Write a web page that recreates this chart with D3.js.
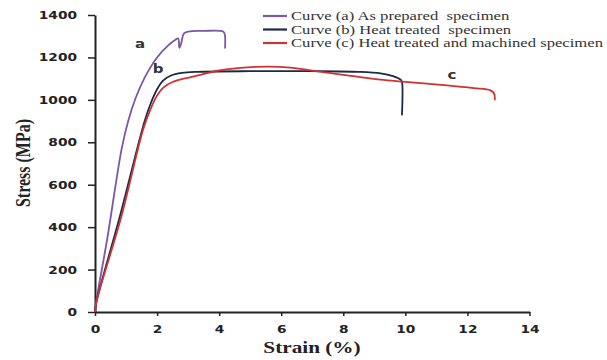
<!DOCTYPE html>
<html>
<head>
<meta charset="utf-8">
<script src="https://cdn.jsdelivr.net/npm/d3@7"></script>
<style>
  body { margin: 0; background: #fff; }
  .axis path, .axis line { stroke: #222; }
  .axis text { font-family: "DejaVu Sans", sans-serif; font-weight: bold; font-size: 11px; fill: #222; }
</style>
</head>
<body>
<svg id="chart" width="607" height="360"></svg>
<script>
const width = 607;
const height = 360;
const svg = d3.select("#chart");

// text in the source picture is stretched sideways
const stretch = 1.25;

// curve (a) as prepared
const strainA = [0, 0.03, 0.4, 0.86, 1.07, 1.3, 1.6, 2.0, 2.35, 2.58, 2.68, 2.72, 2.78, 2.86, 3.0, 3.5, 4.1, 4.17, 4.19];
const stressA = [0, 40, 350, 770, 900, 1005, 1105, 1200, 1256, 1282, 1290, 1245, 1268, 1312, 1322, 1325, 1324, 1315, 1242];

// curve (b) heat treated
const strainB = [0, 0.05, 0.8, 1.6, 1.8, 2.0, 2.2, 2.45, 2.8, 3.3, 5, 7, 8.5, 9.2, 9.6, 9.85, 9.89, 9.89];
const stressB = [0, 50, 450, 900, 985, 1050, 1092, 1115, 1127, 1132, 1135, 1135, 1132, 1125, 1112, 1095, 1085, 927];

// curve (c) heat treated and machined
const strainC = [0, 0.05, 0.85, 1.55, 1.8, 2.0, 2.2, 2.5, 2.9, 3.4, 3.9, 4.6, 5.6, 6.3, 7, 8, 9.2, 10, 11.34, 12.2, 12.74, 12.86, 12.88];
const stressC = [0, 50, 450, 860, 960, 1020, 1058, 1084, 1101, 1118, 1136, 1150, 1157, 1152, 1138, 1118, 1095, 1085, 1068, 1055, 1045, 1030, 998];

const legendLabels = [
    "Curve (a) As prepared  specimen",
    "Curve (b) Heat treated  specimen",
    "Curve (c) Heat treated and machined specimen"
];
const curveLetters = ["a", "b", "c"];
const colors = ["#7b57a8", "#1d2a44", "#d03232"];

const xTicks = [0, 2, 4, 6, 8, 10, 12, 14];
const yTicks = [0, 200, 400, 600, 800, 1000, 1200, 1400];

const x = d3.scaleLinear().domain([0, 14]).range([95, 529.5]);
const y = d3.scaleLinear().domain([0, 1400]).range([312, 15]);

const series = [
    d3.zip(strainA, stressA),
    d3.zip(strainB, stressB),
    d3.zip(strainC, stressC)
];

const line = d3.line()
    .x(d => x(d[0]))
    .y(d => y(d[1]))
    .curve(d3.curveCatmullRom.alpha(0.5));

// axes
const xAxis = svg.append("g")
    .attr("class", "axis")
    .attr("transform", "translate(0," + y(0) + ")")
    .call(d3.axisBottom(x).tickValues(xTicks).tickFormat(d3.format("d"))
        .tickSize(4).tickSizeOuter(0).tickPadding(9));

xAxis.selectAll("text").attr("transform", "scale(" + stretch + ",1)");

const yAxis = svg.append("g")
    .attr("class", "axis")
    .attr("transform", "translate(" + x(0) + ",0)")
    .call(d3.axisLeft(y).tickValues(yTicks).tickFormat(d3.format("d"))
        .tickSize(7).tickSizeOuter(0));

yAxis.selectAll("text")
    .attr("x", 0)
    .attr("transform", "translate(-18,0) scale(" + stretch + ",1)");

svg.selectAll(".axis path").style("stroke-width", 2);
svg.selectAll(".axis line").style("stroke-width", 1.5);

// curves
svg.append("g")
    .selectAll("path")
    .data(series)
    .enter()
    .append("path")
    .attr("d", line)
    .attr("fill", "none")
    .attr("stroke", (d, i) => colors[i])
    .attr("stroke-width", 1.8)
    .attr("stroke-linejoin", "round");

function stretchedText(px, py, txt, sx) {
    return svg.append("g")
        .attr("transform", "translate(" + px + "," + py + ") scale(" + (sx || stretch) + ",1)")
        .append("text")
        .text(txt);
}

// curve letters
const letterAt = [[1.45, 1245], [2.03, 1128], [11.5, 1097]];
letterAt.forEach((p, i) => {
    stretchedText(x(p[0]), y(p[1]), curveLetters[i])
        .attr("text-anchor", "middle")
        .attr("font-family", "'DejaVu Sans', sans-serif")
        .attr("font-weight", "bold")
        .attr("font-size", 12)
        .attr("fill", "#333");
});

// legend
const legend = svg.append("g");
legendLabels.forEach((lab, i) => {
    const ly = 16 + i * 13.5;
    legend.append("line")
        .attr("x1", 263).attr("x2", 287)
        .attr("y1", ly).attr("y2", ly)
        .attr("stroke", colors[i])
        .attr("stroke-width", 2.2);
    stretchedText(291, ly + 4, lab, 1.3)
        .attr("font-family", "'Liberation Serif', serif")
        .attr("font-size", 12.8)
        .attr("fill", "#333")
        .style("white-space", "pre");
});

// axis titles
stretchedText(312, 353, "Strain (%)")
    .attr("text-anchor", "middle")
    .attr("font-family", "'Liberation Serif', serif")
    .attr("font-weight", "bold")
    .attr("font-size", 17)
    .attr("fill", "#222");

svg.append("g")
    .attr("transform", "translate(30,163) scale(" + stretch + ",1) rotate(-90)")
    .append("text")
    .attr("text-anchor", "middle")
    .attr("font-family", "'Liberation Serif', serif")
    .attr("font-weight", "bold")
    .attr("font-size", 16)
    .attr("fill", "#222")
    .text("Stress (MPa)");
</script>
</body>
</html>
